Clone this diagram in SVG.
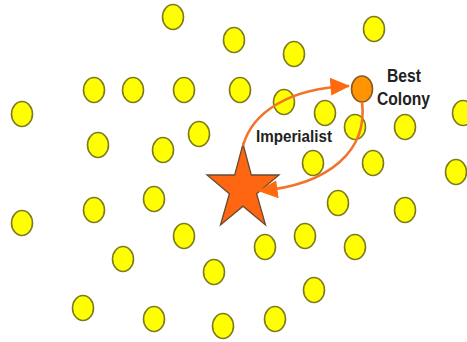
<svg xmlns="http://www.w3.org/2000/svg" width="467" height="342" viewBox="0 0 467 342">
<defs>
<style>
.c{fill:#FFFF00;stroke:#7d7a1e;stroke-width:1.6}
.best{fill:#FF9400;stroke:#8a5a22;stroke-width:1.6}
.star{fill:#FF6611;stroke:#6b4a30;stroke-width:1.3;stroke-linejoin:miter}
.lnk{fill:none;stroke:#F27428;stroke-width:2.6}
.t{font-family:"Liberation Sans",Arial,sans-serif;font-weight:bold;fill:#222}
</style>
<marker id="ah" markerUnits="userSpaceOnUse" markerWidth="20" markerHeight="19" refX="19" refY="9" orient="auto" viewBox="0 0 20 19">
<path d="M0,0 L20,9 L1,18 Z" fill="#FF6A10"/>
</marker>
</defs>
<rect width="467" height="342" fill="#fff"/>
<g id="colonies">
<g id="c1"><ellipse class="c" cx="173" cy="17" rx="10.5" ry="12.5"/></g>
<g id="c2"><ellipse class="c" cx="234" cy="40" rx="10.5" ry="12.5"/></g>
<g id="c3"><ellipse class="c" cx="294" cy="54" rx="10.5" ry="12.5"/></g>
<g id="c4"><ellipse class="c" cx="374" cy="29" rx="10.5" ry="12.5"/></g>
<g id="c5"><ellipse class="c" cx="94" cy="90" rx="10.5" ry="12.5"/></g>
<g id="c6"><ellipse class="c" cx="133" cy="90" rx="10.5" ry="12.5"/></g>
<g id="c7"><ellipse class="c" cx="184" cy="90" rx="10.5" ry="12.5"/></g>
<g id="c8"><ellipse class="c" cx="240" cy="90" rx="10.5" ry="12.5"/></g>
<g id="c9"><ellipse class="c" cx="22" cy="114" rx="10.5" ry="12.5"/></g>
<g id="c10"><ellipse class="c" cx="98" cy="145" rx="10.5" ry="12.5"/></g>
<g id="c11"><ellipse class="c" cx="163" cy="150" rx="10.5" ry="12.5"/></g>
<g id="c12"><ellipse class="c" cx="199" cy="134" rx="10.5" ry="12.5"/></g>
<g id="c13"><ellipse class="c" cx="284" cy="102" rx="10.5" ry="12.5"/></g>
<g id="c14"><ellipse class="c" cx="325" cy="113" rx="10.5" ry="12.5"/></g>
<g id="c15"><ellipse class="c" cx="355" cy="127" rx="10.5" ry="12.5"/></g>
<g id="c16"><ellipse class="c" cx="405" cy="127" rx="10.5" ry="12.5"/></g>
<g id="c17"><ellipse class="c" cx="463" cy="113" rx="10.5" ry="12.5"/></g>
<g id="c18"><ellipse class="c" cx="313" cy="163" rx="10.5" ry="12.5"/></g>
<g id="c19"><ellipse class="c" cx="373" cy="163" rx="10.5" ry="12.5"/></g>
<g id="c20"><ellipse class="c" cx="456" cy="172" rx="10.5" ry="12.5"/></g>
<g id="c21"><ellipse class="c" cx="338" cy="203" rx="10.5" ry="12.5"/></g>
<g id="c22"><ellipse class="c" cx="405" cy="210" rx="10.5" ry="12.5"/></g>
<g id="c23"><ellipse class="c" cx="305" cy="236" rx="10.5" ry="12.5"/></g>
<g id="c24"><ellipse class="c" cx="265" cy="247" rx="10.5" ry="12.5"/></g>
<g id="c25"><ellipse class="c" cx="355" cy="247" rx="10.5" ry="12.5"/></g>
<g id="c26"><ellipse class="c" cx="314" cy="290" rx="10.5" ry="12.5"/></g>
<g id="c27"><ellipse class="c" cx="275" cy="319" rx="10.5" ry="12.5"/></g>
<g id="c28"><ellipse class="c" cx="223" cy="326" rx="10.5" ry="12.5"/></g>
<g id="c29"><ellipse class="c" cx="22" cy="223" rx="10.5" ry="12.5"/></g>
<g id="c30"><ellipse class="c" cx="94" cy="210" rx="10.5" ry="12.5"/></g>
<g id="c31"><ellipse class="c" cx="154" cy="199" rx="10.5" ry="12.5"/></g>
<g id="c32"><ellipse class="c" cx="184" cy="236" rx="10.5" ry="12.5"/></g>
<g id="c33"><ellipse class="c" cx="123" cy="259" rx="10.5" ry="12.5"/></g>
<g id="c34"><ellipse class="c" cx="214" cy="272" rx="10.5" ry="12.5"/></g>
<g id="c35"><ellipse class="c" cx="83" cy="308" rx="10.5" ry="12.5"/></g>
<g id="c36"><ellipse class="c" cx="154" cy="319" rx="10.5" ry="12.5"/></g>
</g>
<g id="imperialist">
<polygon class="star" points="243,144 251.3,175 279,175 256.6,193.8 265.5,225 243,206.2 220.5,225 229.4,193.8 207,175 234.7,175"/>
<text class="t" x="256" y="142" font-size="17" textLength="76" lengthAdjust="spacingAndGlyphs">Imperialist</text>
</g>
<g id="best-colony">
<ellipse class="best" cx="362" cy="89" rx="10.5" ry="13"/>
<text class="t" x="387" y="82" font-size="18" textLength="34" lengthAdjust="spacingAndGlyphs">Best</text>
<text class="t" x="377" y="105" font-size="18" textLength="53" lengthAdjust="spacingAndGlyphs">Colony</text>
</g>
<g id="connectors">
<path class="lnk" d="M243,146 C252,112 290,88 349,86" marker-end="url(#ah)"/>
<path class="lnk" d="M362,102 C368,150 330,185 259,191" marker-end="url(#ah)"/>
</g>
</svg>
